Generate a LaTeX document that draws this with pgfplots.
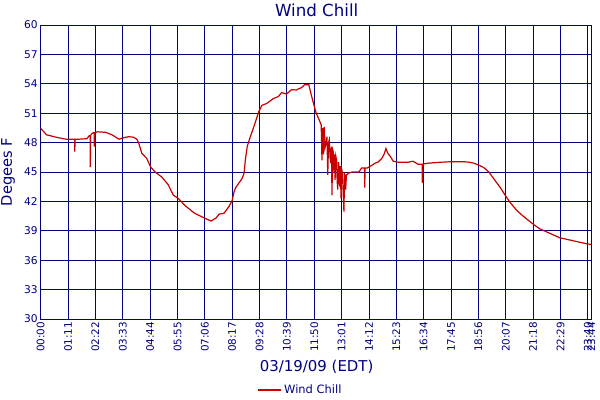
\documentclass[border=0pt]{standalone}
\usepackage{fontspec}
\setmainfont{DejaVu Sans}
\usepackage{pgfplots}
\pgfplotsset{compat=1.18}
\definecolor{navy}{RGB}{0,0,128}
\definecolor{wcred}{RGB}{200,0,0}
\begin{document}
\begin{tikzpicture}
\begin{axis}[
  at={(0,0)}, anchor=south west,
  scale only axis, width=413pt, height=220.5pt,
  xmin=0, xmax=1429, ymin=30, ymax=60,
  ytick={30,33,...,60},
  xtick={0,71,142,213,284,355,426,497,568,639,710,781,852,923,994,1065,1136,1207,1278,1349,1420,1429},
  xticklabels={00:00,01:11,02:22,03:33,04:44,05:55,07:06,08:17,09:28,10:39,11:50,13:01,14:12,15:23,16:34,17:45,18:56,20:07,21:18,22:29,23:40,23:44},
  x tick label style={rotate=90, anchor=east, font=\fontsize{7.8}{8}\selectfont, text=navy, inner sep=2pt},
  y tick label style={font=\fontsize{8}{8}\selectfont, text=navy, inner sep=2pt},
  /pgf/number format/assume math mode=true,
  major tick length=0pt,
  grid=major,
  major grid style={navy, line width=0.7pt},
  axis line style={navy, line width=0.7pt},
  legend style={draw=none, fill=none, at={(0.472,-0.2415)}, anchor=center, font=\fontsize{8.6}{9}\selectfont, text=navy},
  legend image post style={line width=1.3pt},
  legend cell align=left,
]
\addplot[wcred, line width=0.9pt] coordinates {
(0,49.46) (15,48.8) (41,48.54) (66.5,48.34) (83,48.34) (88,48.34) (88.6,47.07) (89.2,48.34)
(100,48.35) (120,48.4) (126,48.7) (128.7,48.7) (128.8,45.5) (129.5,48.7) (132,48.9) (137,49.0)
(139,49.0) (139.2,47.6) (140,49.0) (147,49.1) (169,49.05) (186,48.78) (203,48.35) (220,48.54)
(228.6,48.6) (241,48.55) (250,48.33) (254,48.0) (262.6,46.9) (275,46.4) (285.6,45.5) (297,45.0)
(314,44.5) (331,43.7) (344,42.65) (357,42.3) (374,41.6) (399,40.8) (425,40.3) (442,40.0)
(455,40.3) (463,40.7) (476,40.8) (489,41.5) (497,42.1) (502,43.0) (506,43.4) (514,43.85)
(523,44.35) (528,44.9) (531,46.2) (536,47.6) (544,48.6) (553,49.6) (566,51.15) (574,51.8)
(587,52.0) (604,52.5) (617,52.7) (625,53.1) (638,52.96) (651,53.4) (664,53.37) (670,53.5)
(676.5,53.6) (685,53.9) (696,53.9) (702,52.9) (708,52.0) (715,51.0) (723,50.3) (728,49.8)
(730,46.2) (732,49.5) (734,46.8) (736,49.6) (738,47.5) (740.5,47.9) (743,48.6) (745,44.7)
(747,48.0) (749,48.3) (751,46.5) (753,45.9) (754.5,47.6) (756,42.65) (757.5,47.3) (759,47.1)
(761,45.0) (762.5,46.8) (764,44.2) (766,46.6) (768,46.2) (769.5,44.0) (771,43.2) (773,46.0)
(774.5,45.2) (776,43.5) (777.5,45.6) (779.6,42.3) (781,45.3) (783,44.9) (785,43.0) (787,40.95)
(788.5,44.8) (790,44.7) (791.5,43.2) (793.5,44.7) (800,44.9) (809,45.0) (826,45.0) (832.6,45.4)
(840.5,45.4) (841.1,43.4) (841.7,45.4) (847,45.4) (860,45.7) (868,45.9) (877,46.05) (885.6,46.4)
(892,46.9) (896,47.4) (901,46.9) (907,46.6) (915,46.1) (928,46.0) (954,46.0) (966,46.1)
(979,45.8) (990,45.8) (990.5,43.9) (991,45.8) (1005,45.9) (1039,46.0) (1065,46.05) (1099,46.05)
(1112,46.0) (1124,45.9) (1137,45.7) (1150,45.45) (1163,45.0) (1176,44.3) (1193,43.4) (1205,42.65)
(1218,41.9) (1235,41.1) (1252,40.5) (1274,39.8) (1295,39.2) (1321,38.75) (1346,38.3) (1380,38.0)
(1414,37.7) (1429,37.6)
};
\addlegendentry{Wind Chill}
\end{axis}
\node[text=navy, font=\fontsize{12.5}{14}\selectfont] at (207pt,231.75pt) {Wind Chill};
\node[text=navy, font=\fontsize{11}{12}\selectfont, rotate=90] at (-24.5pt,110.25pt) {Degees F};
\node[text=navy, font=\fontsize{11.2}{12}\selectfont] at (207pt,-36pt) {03/19/09 (EDT)};
\pgfresetboundingbox
\useasboundingbox (-30.5pt,-60.75pt) rectangle (419.5pt,239.25pt);
\end{tikzpicture}
\end{document}
